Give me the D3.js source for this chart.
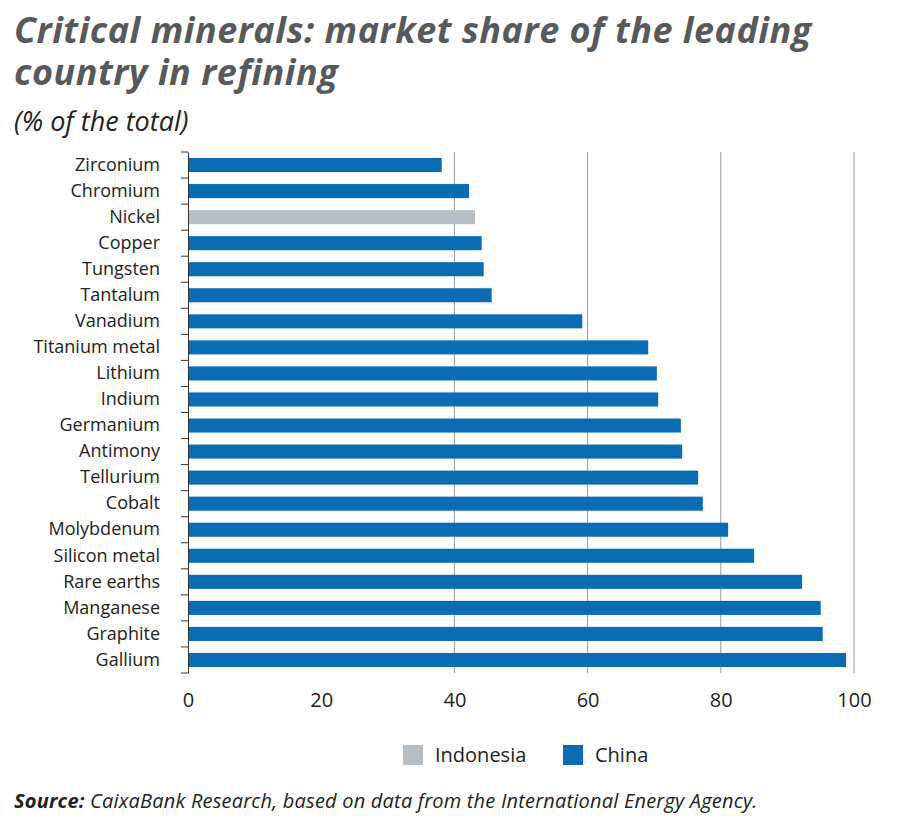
<!DOCTYPE html><html><head><meta charset="utf-8">
<script src="https://cdn.jsdelivr.net/npm/d3@7"></script>
<style>body{margin:0;background:#fff}</style></head><body>
<svg id="c" width="900" height="834"></svg>
<script>
const categories=["Zirconium","Chromium","Nickel","Copper","Tungsten","Tantalum","Vanadium","Titanium metal","Lithium","Indium","Germanium","Antimony","Tellurium","Cobalt","Molybdenum","Silicon metal","Rare earths","Manganese","Graphite","Gallium"];
const values=[38.1,42.2,43.1,44.1,44.4,45.6,59.2,69.1,70.4,70.6,74.0,74.2,76.6,77.3,81.1,85.0,92.2,95.0,95.3,98.8];
const leaders=["China","China","Indonesia","China","China","China","China","China","China","China","China","China","China","China","China","China","China","China","China","China"];
const seriesNames=["Indonesia","China"];
const xTicks=[0,20,40,60,80,100];
const colors={Indonesia:"#b5bfc4",China:"#0a6db3"};
const svg=d3.select("#c");
const F="'Open Sans',sans-serif";
const x=d3.scaleLinear().domain([0,100]).range([188,854]);
const y=d3.scaleBand().domain(categories).range([152,673]).paddingInner(0.46).paddingOuter(0.23);
const t=svg.append("g").attr("font-family",F).attr("font-style","italic").attr("fill","#58595b");
t.append("text").attr("x",14).attr("y",43).attr("font-size",36).attr("font-weight",700).attr("letter-spacing",0.5).text("Critical minerals: market share of the leading");
t.append("text").attr("x",14).attr("y",85).attr("font-size",36).attr("font-weight",700).attr("letter-spacing",0.5).text("country in refining");
t.append("text").attr("x",14).attr("y",131).attr("font-size",27).attr("fill","#222").text("(% of the total)");
svg.append("g").selectAll("line").data(xTicks.filter(d=>d>=40)).join("line")
 .attr("x1",d=>x(d)).attr("x2",d=>x(d)).attr("y1",152).attr("y2",673).attr("stroke","#999").attr("stroke-width",1);
svg.append("g").selectAll("rect").data(categories).join("rect")
 .attr("x",x(0)).attr("y",d=>y(d)).attr("height",y.bandwidth()).attr("width",(d,i)=>x(values[i])-x(0))
 .attr("fill",(d,i)=>colors[leaders[i]]);
const ya=svg.append("g").attr("transform","translate(188,0)").call(d3.axisLeft(y).tickSize(0).tickPadding(28));
ya.select(".domain").attr("stroke","#333");
ya.selectAll("text").attr("font-family",F).attr("font-size",18).attr("fill","#222");
const step=y.step();
svg.append("g").selectAll("line").data(d3.range(categories.length+1)).join("line")
 .attr("x1",181).attr("x2",188).attr("y1",d=>y(categories[0])-step*0.23+d*step).attr("y2",d=>y(categories[0])-step*0.23+d*step)
 .attr("stroke","#333");
const xa=svg.append("g").attr("transform","translate(0,673)").call(d3.axisBottom(x).tickValues(xTicks).tickSize(0).tickPadding(20));
xa.select(".domain").remove();
xa.selectAll("text").attr("font-family",F).attr("font-size",20).attr("fill","#222");
const lg=svg.append("g").attr("font-family",F).attr("font-size",20).attr("fill","#222");
const lx=[403,563];
seriesNames.forEach((s,i)=>{lg.append("rect").attr("x",lx[i]).attr("y",745).attr("width",20).attr("height",20).attr("fill",colors[s]);
 lg.append("text").attr("x",lx[i]+32).attr("y",762).text(s);});
const src=svg.append("text").attr("x",14).attr("y",808).attr("font-family",F).attr("font-style","italic").attr("font-size",20).attr("fill","#222").attr("letter-spacing",0.2);
src.append("tspan").attr("font-weight",700).text("Source: ");
src.append("tspan").text("CaixaBank Research, based on data from the International Energy Agency.");
</script></body></html>
